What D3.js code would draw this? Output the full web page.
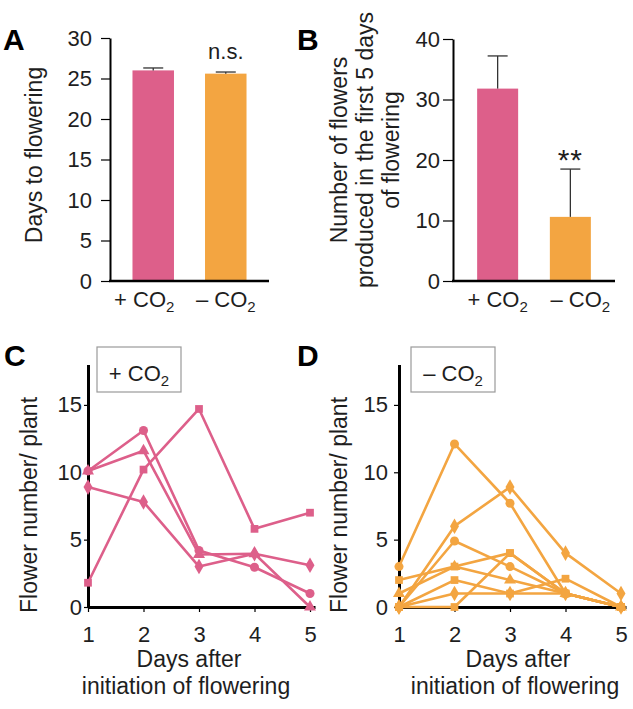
<!DOCTYPE html>
<html>
<head>
<meta charset="utf-8">
<script src="https://cdn.jsdelivr.net/npm/d3@7"></script>
<style>
  html, body { margin: 0; padding: 0; background: #fff; }
  svg { display: block; font-family: "Liberation Sans", Arial, Helvetica, sans-serif; }
</style>
</head>
<body>
<svg id="chart" width="633" height="709"></svg>
<script>
// ---------------- DATA ----------------
const categories = ["+ CO2", "– CO2"];
const daysToFlowering = [26.0, 25.6];
const daysToFloweringErr = [0.3, 0.2];
const flowersFirst5 = [31.8, 10.6];
const flowersFirst5Err = [5.4, 7.9];
const ticksA = [0, 5, 10, 15, 20, 25, 30];
const ticksB = [0, 10, 20, 30, 40];
const days = [1, 2, 3, 4, 5];
const ticksLine = [0, 5, 10, 15];

// Panel C (+CO2): one array per plant
const plusCircle   = [10.1, 13.1, 4.2, 2.95, 1.0];
const plusTriangle = [10.1, 11.6, 3.9, 3.95, 0.0];
const plusDiamond  = [8.9, 7.8, 3.0, 3.95, 3.1];
const plusSquare   = [1.8, 10.2, 14.7, 5.8, 7.0];
const plusSeries = [plusCircle, plusTriangle, plusDiamond, plusSquare];
const plusShapes = ["circle", "triangle", "diamond", "square"];

// Panel D (-CO2)
const minus1 = [3.0, 12.1, 7.7, 1.0, 0.0];
const minus2 = [0.0, 6.0, 8.9, 4.0, 1.0];
const minus3 = [0.0, 4.9, 3.0, 1.0, 0.0];
const minus4 = [2.0, 3.0, 4.0, 1.0, 0.0];
const minus5 = [1.0, 3.0, 2.0, 1.0, 0.0];
const minus6 = [0.0, 2.0, 1.0, 2.1, 0.0];
const minus7 = [0.0, 1.0, 1.0, 1.0, 0.0];
const minus8 = [0.0, 0.0, 4.0, 1.0, 0.0];
const minusSeries = [minus1, minus2, minus3, minus4, minus5, minus6, minus7, minus8];
const minusShapes = ["circle", "diamond", "circle", "square", "triangle", "square", "diamond", "square"];

// ---------------- STYLE ----------------
const PINK = "#dd5f8a";
const ORANGE = "#f3a541";
const TEXT = "#1e1e1e";
const barColors = [PINK, ORANGE];
const FS_TICK = 22;
const FS_LABEL = 23;

const svg = d3.select("#chart");

function catLabel(sel, label) {
  // "+ CO2" -> "+ CO" with subscript 2
  const base = label.slice(0, -1), sub = label.slice(-1);
  sel.text(null);
  sel.append("tspan").text(base);
  sel.append("tspan").attr("font-size", 15).attr("dy", 5).text(sub);
}

function styleAxis(g, domainWidth) {
  g.attr("font-size", FS_TICK).attr("font-family", "Liberation Sans, Arial, sans-serif");
  g.selectAll(".domain").attr("stroke", "#000").attr("stroke-width", domainWidth);
  g.selectAll(".tick line").attr("stroke", "#000").attr("stroke-width", 1.2);
  g.selectAll(".tick text").attr("fill", TEXT).attr("font-size", FS_TICK);
}

// ---------------- BAR PANELS ----------------
function barPanel(opts) {
  const y = d3.scaleLinear().domain([0, opts.max]).range([281, opts.top]);
  const x = d3.scaleBand().domain(categories).range([opts.x0, opts.x1])
    .paddingInner(opts.pi).paddingOuter(opts.po);
  const g = svg.append("g");

  g.selectAll("rect.bar").data(opts.values).join("rect")
    .attr("x", (d, i) => x(categories[i]))
    .attr("y", d => y(d))
    .attr("width", x.bandwidth())
    .attr("height", d => y(0) - y(d))
    .attr("fill", (d, i) => barColors[i]);

  opts.values.forEach((v, i) => {
    const cx = x(categories[i]) + x.bandwidth() / 2;
    g.append("line").attr("x1", cx).attr("x2", cx)
      .attr("y1", y(v)).attr("y2", y(v + opts.err[i]))
      .attr("stroke", "#333").attr("stroke-width", 1.3);
    g.append("line").attr("x1", cx - 10).attr("x2", cx + 10)
      .attr("y1", y(v + opts.err[i])).attr("y2", y(v + opts.err[i]))
      .attr("stroke", "#333").attr("stroke-width", 1.3);
  });

  const ya = g.append("g").attr("transform", `translate(${opts.x0},0)`)
    .call(d3.axisLeft(y).tickValues(opts.ticks).tickSize(opts.tickSize)
      .tickPadding(opts.tickPad).tickSizeOuter(0));
  styleAxis(ya, 2);

  g.append("line").attr("x1", opts.x0 - 1).attr("x2", opts.x1)
    .attr("y1", y(0)).attr("y2", y(0)).attr("stroke", "#000").attr("stroke-width", 2.6);

  categories.forEach((c, i) => {
    const cx = x(c) + x.bandwidth() / 2 + opts.labelDx[i];
    g.append("text").attr("x", cx).attr("y", 307).attr("text-anchor", "middle")
      .attr("font-size", FS_TICK).attr("fill", TEXT).call(catLabel, c);
  });

  const sx = x(categories[1]) + x.bandwidth() / 2;
  g.append("text").attr("x", sx).attr("y", opts.sigY).attr("text-anchor", "middle")
    .attr("font-size", opts.sigSize).attr("letter-spacing", opts.sigSpacing)
    .attr("fill", TEXT).text(opts.sig);

  opts.ylabel.forEach((t, i) => {
    g.append("text")
      .attr("transform", `translate(${opts.ylabelX[i]},${opts.ylabelY}) rotate(-90)`)
      .attr("text-anchor", "middle").attr("font-size", FS_LABEL).attr("fill", TEXT).text(t);
  });

  g.append("text").attr("x", opts.letterX).attr("y", 50).attr("font-size", 30)
    .attr("font-weight", "bold").attr("fill", "#000").text(opts.letter);
}

barPanel({
  values: daysToFlowering, err: daysToFloweringErr, max: 30, top: 38, ticks: ticksA,
  x0: 110, x1: 269, pi: 0.428, po: 0.31, tickSize: 9, tickPad: 9,
  labelDx: [-9, 0], sig: "n.s.", sigY: 59, sigSize: FS_TICK, sigSpacing: 0,
  ylabel: ["Days to flowering"], ylabelX: [42], ylabelY: 155,
  letter: "A", letterX: 3
});

barPanel({
  values: flowersFirst5, err: flowersFirst5Err, max: 40, top: 39, ticks: ticksB,
  x0: 453, x1: 615, pi: 0.436, po: 0.332, tickSize: 10, tickPad: 3,
  labelDx: [0, 10], sig: "**", sigY: 170, sigSize: 30, sigSpacing: 1,
  ylabel: ["Number of flowers", "produced in the first 5 days", "of flowering"],
  ylabelX: [347, 373, 399], ylabelY: 150,
  letter: "B", letterX: 297
});

// ---------------- LINE PANELS ----------------
const symbolMap = {
  circle: [d3.symbolCircle, 64],
  square: [d3.symbolSquare, 60],
  diamond: [d3.symbolDiamond, 70],
  triangle: [d3.symbolTriangle, 62]
};

function linePanel(opts) {
  const x = d3.scaleLinear().domain([1, 5.09]).range([opts.x0, opts.x0 + 227]);
  const y = d3.scaleLinear().domain([0, 18]).range([607, 364.5]);
  const g = svg.append("g");

  g.append("rect").attr("x", opts.boxX).attr("y", 347).attr("width", 84).attr("height", 45)
    .attr("fill", "#fff").attr("stroke", "#9a9a9a").attr("stroke-width", 1.2);
  g.append("text").attr("x", opts.boxX + 42).attr("y", 381).attr("text-anchor", "middle")
    .attr("font-size", FS_TICK).attr("fill", TEXT).call(catLabel, opts.label);

  const ya = g.append("g").attr("transform", `translate(${opts.x0},0)`)
    .call(d3.axisLeft(y).tickValues(ticksLine).tickSize(opts.yTick).tickPadding(opts.yPad).tickSizeOuter(0));
  styleAxis(ya, 3);
  const xa = g.append("g").attr("transform", `translate(0,${y(0)})`)
    .call(d3.axisBottom(x).tickValues(days).tickFormat(d3.format("d"))
      .tickSize(5).tickPadding(14).tickSizeOuter(0));
  styleAxis(xa, 3);

  const line = d3.line().x((d, i) => x(days[i])).y(d => y(d));
  opts.series.forEach(s => {
    g.append("path").datum(s).attr("d", line).attr("fill", "none")
      .attr("stroke", opts.color).attr("stroke-width", 2.6).attr("stroke-linejoin", "round");
  });
  opts.series.forEach((s, k) => {
    const [type, size] = symbolMap[opts.shapes[k]];
    g.selectAll(null).data(s).join("path")
      .attr("d", d3.symbol().type(type).size(size))
      .attr("transform", (d, i) => `translate(${x(days[i])},${y(d)})`)
      .attr("fill", opts.color);
  });

  g.append("text")
    .attr("transform", `translate(${opts.ylabelX},505) rotate(-90)`)
    .attr("text-anchor", "middle").attr("font-size", FS_LABEL).attr("fill", TEXT)
    .text("Flower number/ plant");
  g.append("text").attr("x", opts.xlabelC).attr("y", 667).attr("text-anchor", "middle")
    .attr("font-size", FS_LABEL).attr("fill", TEXT).text("Days after");
  g.append("text").attr("x", opts.xlabelC - 3).attr("y", 694).attr("text-anchor", "middle")
    .attr("font-size", FS_LABEL).attr("fill", TEXT).text("initiation of flowering");

  g.append("text").attr("x", opts.letterX).attr("y", 366).attr("font-size", 30)
    .attr("font-weight", "bold").attr("fill", "#000").text(opts.letter);
}

linePanel({
  series: plusSeries, shapes: plusShapes, color: PINK, x0: 88, boxX: 97, label: "+ CO2",
  yTick: 4, yPad: 2, ylabelX: 37, xlabelC: 189, letter: "C", letterX: 4
});
linePanel({
  series: minusSeries, shapes: minusShapes, color: ORANGE, x0: 399, boxX: 411, label: "– CO2",
  yTick: 5, yPad: 6, ylabelX: 347, xlabelC: 518, letter: "D", letterX: 297
});
</script>
</body>
</html>
